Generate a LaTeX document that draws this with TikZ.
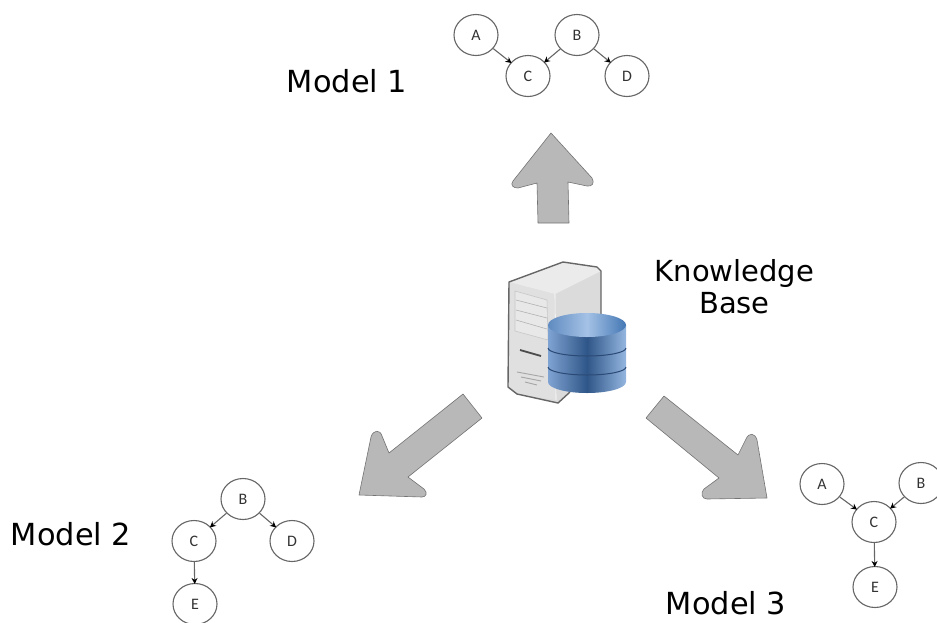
\documentclass[tikz,border=0pt]{standalone}
\usepackage{fontspec}
\setmainfont{DejaVu Sans}
\newfontfamily\smallfam{Carlito}
\usetikzlibrary{arrows.meta,shapes.geometric}
\definecolor{bigarrow}{HTML}{B8B8B8}
\definecolor{bn}{HTML}{666666}
\definecolor{cylL}{HTML}{7FA3D2}
\definecolor{cylM}{HTML}{2F5688}
\definecolor{cylR}{HTML}{94B6E0}
\definecolor{topL}{HTML}{5F8BC0}
\definecolor{topM}{HTML}{A5C2E6}
\definecolor{topR}{HTML}{4377B4}
\definecolor{cylband}{HTML}{2B4A75}
\tikzset{
  bnode/.style={draw=bn,line width=1.1pt,fill=white,ellipse,minimum width=44pt,minimum height=41pt,inner sep=0pt,font=\smallfam\fontsize{16}{16}\selectfont,text=black!80},
  bedge/.style={draw=bn,line width=1.1pt,-{Stealth[length=6pt,width=6pt,black]},shorten >=-1pt},
  biglabel/.style={font=\fontsize{30.4}{32}\selectfont,text=black,inner sep=0pt},
  bigshape/.style={fill=bigarrow,draw=black!55,line width=0.6pt,line join=round}
}
\begin{document}
\begin{tikzpicture}[x=1pt,y=-1pt]
\useasboundingbox (0,0) rectangle (937,622);
% big arrows
\draw[bigshape] (551,133) -- (592,178) .. controls (595,183) and (592,187) .. (587,186) -- (568,182) -- (569,223) -- (538,223) -- (537,183) -- (518,188) .. controls (513,188) and (510,185) .. (513,181) -- cycle;
\draw[bigshape] (463,394) -- (482,418) -- (408,477) -- (424,489) .. controls (428,493) and (426,497) .. (422,497) -- (359,495) -- (371,437) .. controls (373,430) and (380,429) .. (382,436) -- (389,453) -- cycle;
\draw[bigshape] (664,396) -- (646,418) -- (719,478) -- (704,489) .. controls (700,493) and (702,499) .. (707,499) -- (767,498) -- (757,440) .. controls (755,433) and (749,432) .. (746,439) -- (738,455) -- cycle;
% server
\path[fill=black!14] (509,282) -- (563,262) -- (597,267) -- (601,271) -- (601,392) -- (570,392) -- (558,403) -- (517,394) -- (508,387) -- cycle;
\path[fill=black!12] (509,282) -- (555,294) -- (556,400) -- (517,394) -- (508,387) -- cycle;
\path[fill=black!9] (515,291) -- (547,300) -- (548,340) -- (515,331) -- cycle;
\draw[black!30,line width=0.6pt] (516,300)--(547,308) (516,310)--(547,318) (516,320)--(547,329);
\draw[black!22,line width=0.6pt] (515,291) -- (547,300) -- (548,340) -- (515,331) -- cycle;
\draw[black!70,line width=1.8pt] (520,350) -- (541,356);
\draw[black!35,line width=0.9pt] (517,372)--(544,377) (521,377)--(541,381) (525,382)--(537,385);
\path[fill=black!8] (509,282) -- (555,294) -- (601,271) -- (597,267) -- (563,262) -- cycle;
\draw[black!60,line width=1.4pt,line join=round] (601,320) -- (601,271) -- (597,267) -- (563,262) -- (509,282) -- (508,387) -- (517,394) -- (558,403) -- (570,392);
\draw[white,line width=0.6pt] (555,294) -- (556,400);
% cylinder
\shade[left color=cylL,right color=cylR,middle color=cylM] (548,325) -- (548,382) arc[start angle=180,end angle=0,x radius=39,y radius=11] -- (626,325) -- cycle;
\shade[left color=topL,right color=topR,middle color=topM] (548,325) arc[start angle=180,end angle=-180,x radius=39,y radius=12];
\draw[cylband,line width=1pt] (548,348) arc[start angle=180,end angle=0,x radius=39,y radius=8];
\draw[cylband,line width=1pt] (548,367) arc[start angle=180,end angle=0,x radius=39,y radius=8];
% labels
\node[biglabel] (m1) at (347,81) {Model 1};
\node[biglabel,align=center,font=\fontsize{29}{32}\selectfont] (kb) at (734.5,287) {Knowledge\\Base};
\node[biglabel] (m2) at (71,534) {Model 2};
\node[biglabel,anchor=base] (m3) at (726,614) {Model 3};
% model 1
\node[bnode] (a1) at (476,35) {A};
\node[bnode] (b1) at (577,35) {B};
\node[bnode] (c1) at (528,76) {C};
\node[bnode] (d1) at (627,76) {D};
\draw[bedge] (a1) -- (c1);
\draw[bedge] (b1) -- (c1);
\draw[bedge] (b1) -- (d1);
% model 2
\node[bnode] (b2) at (243,499) {B};
\node[bnode] (c2) at (194,541) {C};
\node[bnode] (d2) at (292,541) {D};
\node[bnode] (e2) at (195,604) {E};
\draw[bedge] (b2) -- (c2);
\draw[bedge] (b2) -- (d2);
\draw[bedge] (c2) -- (e2);
% model 3
\node[bnode] (a3) at (822,484) {A};
\node[bnode] (b3) at (921,483) {B};
\node[bnode] (c3) at (874,522) {C};
\node[bnode] (e3) at (875,587) {E};
\draw[bedge] (a3) -- (c3);
\draw[bedge] (b3) -- (c3);
\draw[bedge] (c3) -- (e3);
\end{tikzpicture}
\end{document}
